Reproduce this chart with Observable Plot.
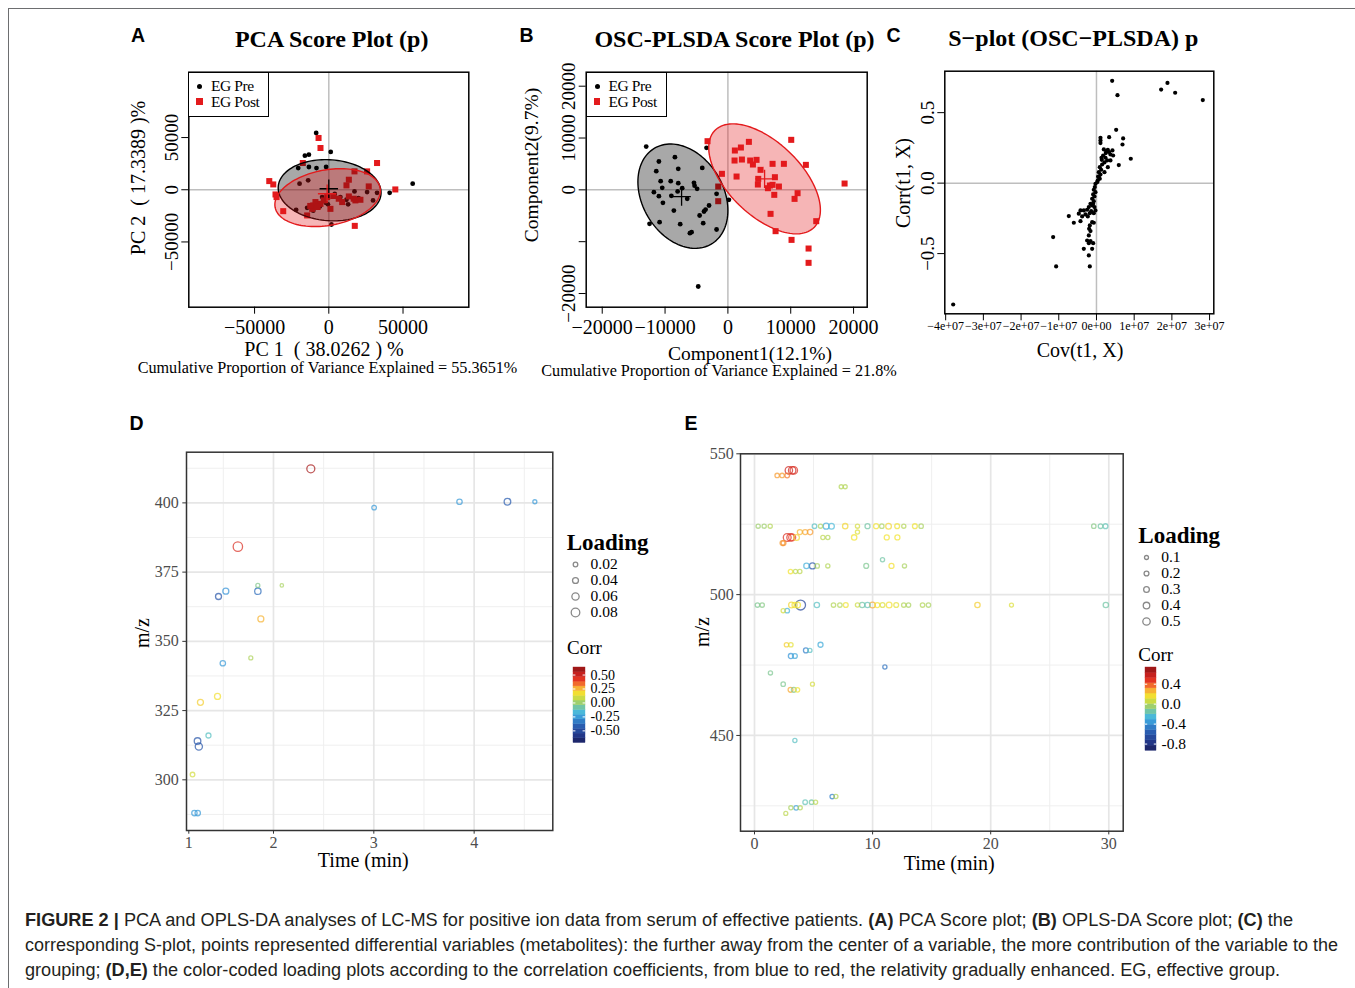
<!DOCTYPE html>
<html>
<head>
<meta charset="utf-8">
<script src="https://cdn.jsdelivr.net/npm/d3@7"></script>
<script src="https://cdn.jsdelivr.net/npm/@observablehq/plot@0.6"></script>
<style>
html,body{margin:0;padding:0;background:#fff;}
body{position:relative;width:1355px;height:988px;overflow:hidden;}
.t{position:absolute;white-space:nowrap;line-height:0.8;}
</style>
</head>
<body>
<script>
const SERIF = '"Liberation Serif","Times New Roman",Times,serif';
const SANS = '"Liberation Sans",Arial,Helvetica,sans-serif';
const NARROW = '"Liberation Sans Narrow","Arial Narrow","Liberation Sans",Arial,sans-serif';
const RED = "#e31a1c";

// ---------------- Panel A : PCA scores ----------------
const aPreX = [-8500, 1300, -16100, -13400, -20600, -13400, -8300, -1800, -19700, -13900, 56500, 41000, 32500, 25800, 17300, 29800, 11900, -4500, -22000, -14600, -9000, 7800, 1800, -600, -2000, 4000, 20000, -10500, 13000, -6000];
const aPreY = [54400, 36200, 32600, 33600, 20800, 21800, 20800, 21800, 5800, 9000, 5800, -2900, -2900, -2200, -1600, -10200, -9600, -7000, -19200, -17300, -11800, -7000, -33300, -14000, -12500, -4000, -8000, -20000, -14000, -16000];
const aPostX = [-6900, -5600, -17500, 32500, 17300, 25800, -40100, -37400, 13500, 11900, 26900, 44800, -35900, -35200, -30700, -10500, -9000, -5600, -3400, 1100, -1100, 6700, 9000, 13500, 16800, 21300, 17900, -14600, 17500, -11200, -12500, 3000, -7500];
const aPostY = [49600, 40000, 25600, 25600, 17600, 17600, 8300, 5100, 9600, 4200, 3200, 300, -4500, -7000, -20500, -15000, -11800, -13500, -10200, -18300, -7000, -8600, -11800, -6400, -8600, -9600, -10200, -24600, -34600, -18300, -15500, -6000, -16500];
const aEllPre = [560, -480, 34640, 29330, -0.078];   // centre x, centre y, half-width, half-height, correlation
const aEllPost = [-785, -7530, 35540, 27720, 0.243];
const aCenterPre = [0, 960];
const aCenterPost = [-1120, -3850];
const aXTicks = [-50000, 0, 50000];
const aYTicks = [-50000, 0, 50000];

// ---------------- Panel B : OSC-PLSDA scores ----------------
const bPreX = [-13000, -3400, -8430, -10980, -7900, -11400, -4080, -10700, -9100, -10450, -7900, -5400, -4900, -7270, -11780, -10980, -9000, -6470, -10340, -3000, -3550, -3800, -4500, -8600, -12470, -10870, -7590, -3930, -1800, -5780, -6050, -4720, -1800, 160, -5300, -8000];
const bPreY = [8360, 8100, 6300, 5470, 4050, 3600, 4240, 1670, 1670, 390, 1290, 1350, 190, 320, -450, -1220, -1160, -1740, -2500, -3020, -3800, -4180, -4950, -4000, -6560, -6240, -6620, -6430, -7650, -8170, -8360, -18650, -770, -1930, 800, -300];
const bPostX = [-3240, 10080, 3340, 2070, 1110, 1060, 2230, 3550, 3980, 4560, 7110, 8910, 12410, -950, 1380, 5200, 4830, 4770, 7480, 6680, 7110, 8120, 6370, 7380, 11090, 10610, -1540, -1540, 18570, 6790, 14060, 7590, 10130, 12840, 12840];
const bPostY = [9390, 9650, 9260, 8170, 7590, 5660, 5850, 5660, 4890, 5790, 5020, 5020, 4820, 3090, 2570, 3860, 2120, 1030, 2440, 840, 970, 640, 320, -960, -640, -1740, 640, -2190, 1220, -4630, -6040, -7970, -9650, -11320, -14080];
const bEllPre = [-7160, -1220, 7162, 10063, -0.274];
const bEllPost = [5836, 2122, 8886, 10610, -0.567];
const bCenterPre = [-7370, -1290];
const bCenterPost = [5840, 2120];
const bXTicks = [-20000, -10000, 0, 10000, 20000];
const bYTicks = [-20000, -10000, 0, 10000, 20000];

// ---------------- Panel C : S-plot ----------------
const cCov = [4.16e6, 5.57e6, 17.15e6, 18.83e6, 20.87e6, 28.2e6, 5.22e6, 3.36e6, 7.07e6, 6.9e6, 9.1e6, 5.92e6,
  1.06e6, 1.06e6, 1.06e6, 1.95e6, 3.01e6, 4.24e6, 3.36e6, 2.65e6, 1.77e6, 2.39e6, 1.33e6, 3.71e6, 4.42e6, 2.83e6, 2.12e6, 3.71e6, 1.5e6, 0.88e6, 3.01e6, 1.24e6, 0.62e6, 2.12e6, 1.06e6, 0.44e6, 0.88e6, 0.35e6, 0.18e6, 0.62e6, 1.41e6, 2.48e6,
  -0.44e6, -0.71e6, -0.27e6, -0.88e6, -0.53e6, -1.15e6, -0.71e6, -1.59e6, -1.15e6, -2.03e6, -0.53e6, -2.48e6, -1.41e6, -3.36e6, -4.24e6, -4.69e6, -2.92e6, -1.77e6, -0.71e6, -3.8e6, -2.3e6, -7.34e6, -6.01e6, -4.24e6, -1.15e6, -0.71e6, -1.77e6, -1.95e6, -1.59e6, -2.03e6, -2.48e6, -1.59e6, -0.88e6, -2.03e6, -3.36e6, -1.15e6, -2.03e6,
  -11.49e6, -10.7e6, -1.77e6, -38.0e6, -0.27e6, -0.88e6, -0.27e6];
const cCorr = [0.726, 0.624, 0.664, 0.711, 0.641, 0.589, 0.378, 0.326, 0.317, 0.274, 0.173, 0.128,
  0.322, 0.303, 0.284, 0.239, 0.236, 0.232, 0.220, 0.227, 0.196, 0.180, 0.180, 0.203, 0.196, 0.161, 0.147, 0.161, 0.132, 0.113, 0.113, 0.095, 0.078, 0.078, 0.061, 0.047, 0.031, 0.019, 0.007, 0.043, 0.165, 0.213,
  -0.028, -0.047, -0.064, -0.080, -0.095, -0.111, -0.128, -0.147, -0.158, -0.170, -0.170, -0.189, -0.199, -0.194, -0.194, -0.217, -0.222, -0.213, -0.213, -0.236, -0.236, -0.234, -0.281, -0.270, -0.277, -0.281, -0.300, -0.324, -0.340, -0.371, -0.407, -0.411, -0.426, -0.426, -0.466, -0.466, -0.513,
  -0.383, -0.591, -0.591, -0.861, -0.005, -0.147, -0.194];
const cXTicks = [-4e7, -3e7, -2e7, -1e7, 0, 1e7, 2e7, 3e7];
const cYTicks = [-0.5, 0, 0.5];

// ---------------- Panel D : loading plot ----------------
const dTime = [2.372, 1.645, 3.003, 3.854, 4.332, 4.605, 1.452, 1.525, 1.844, 1.844, 2.083, 1.874, 1.495, 1.774, 1.442, 1.272, 1.352, 1.243, 1.256, 1.193, 1.212, 1.245];
const dMz = [412.3, 384.2, 398.3, 400.4, 400.4, 400.4, 366.2, 368.1, 368.1, 370.2, 370.2, 358.1, 342.1, 344.0, 330.1, 328.0, 316.0, 314.0, 312.0, 301.9, 288.0, 288.0];
const dCorr = [0.58, 0.45, -0.25, -0.25, -0.42, -0.25, -0.45, -0.27, -0.38, -0.05, 0.02, 0.25, -0.25, 0.03, 0.17, 0.20, -0.12, -0.45, -0.45, 0.10, -0.25, -0.25];
const dLoading = [0.071, 0.092, 0.020, 0.032, 0.050, 0.011, 0.041, 0.041, 0.047, 0.011, 0.002, 0.041, 0.032, 0.011, 0.041, 0.041, 0.026, 0.050, 0.059, 0.020, 0.032, 0.032];
const dXTicks = [1.156, 2, 3, 4];
const dXLabels = ["1", "2", "3", "4"];
const dXMinor = [1.5, 2.5, 3.5, 4.5];
const dYTicks = [300, 325, 350, 375, 400];
const dYMinor = [287.5, 312.5, 337.5, 362.5, 387.5, 412.5];
const dLoadBreaks = [0.02, 0.04, 0.06, 0.08];
const dCorrBreaks = [-0.5, -0.25, 0, 0.25, 0.5];

// ---------------- Panel E : loading plot ----------------
const eTime = [2.91, 3.19, 3.33, 1.92, 2.34, 2.77, 7.34, 7.68,
  0.31, 0.82, 1.33, 5.08, 5.59, 6.07, 6.52, 7.68, 8.72, 9.57, 10.30, 10.78, 11.35, 12.08, 12.64, 13.58, 14.11, 28.73, 29.30, 29.72,
  3.84, 4.29, 4.71, 8.72,
  2.77, 3.05, 3.19, 3.56, 5.79, 6.21, 8.44, 11.20, 12.10,
  2.37, 2.46,
  10.84,
  4.40, 4.91, 5.31, 6.21, 9.46, 11.60, 12.70,
  3.05, 3.47, 3.84,
  0.25, 0.65, 3.13, 3.40, 3.65, 3.90, 5.28, 6.69, 7.23, 7.73, 8.72, 9.12, 9.57, 9.99, 10.40, 10.84, 11.40, 12.00, 12.64, 13.04, 14.23, 14.73, 18.88, 21.76, 29.75,
  2.43, 2.77,
  2.71, 3.08, 5.59,
  4.35, 4.69,
  3.08, 3.42,
  11.04, 1.35, 2.43, 4.91,
  3.05, 3.33, 3.64,
  3.42,
  6.58, 6.89,
  4.29, 4.83, 5.17,
  3.08, 3.53, 3.87,
  2.65];
const eMz = [544.1, 544.1, 544.1, 542.3, 542.3, 542.3, 538.3, 538.3,
  524.3, 524.3, 524.3, 524.3, 524.3, 524.3, 524.3, 524.3, 524.3, 524.3, 524.3, 524.3, 524.3, 524.3, 524.3, 524.3, 524.3, 524.3, 524.3, 524.3,
  522.2, 522.2, 522.2, 522.2,
  520.3, 520.3, 520.3, 520.3, 520.3, 520.3, 520.3, 520.3, 520.3,
  518.3, 518.3,
  512.4,
  510.2, 510.2, 510.2, 510.2, 510.2, 510.2, 510.2,
  508.2, 508.2, 508.2,
  496.3, 496.3, 496.3, 496.3, 496.3, 496.3, 496.3, 496.3, 496.3, 496.3, 496.3, 496.3, 496.3, 496.3, 496.3, 496.3, 496.3, 496.3, 496.3, 496.3, 496.3, 496.3, 496.3, 496.3, 496.3,
  494.3, 494.3,
  482.2, 482.2, 482.2,
  480.2, 480.2,
  478.2, 478.2,
  474.3, 472.2, 468.2, 468.2,
  466.2, 466.2, 466.2,
  448.2,
  428.3, 428.3,
  426.3, 426.3, 426.3,
  424.3, 424.3, 424.3,
  422.3];
const eCorr = [0.55, 0.55, 0.50, 0.30, 0.30, 0.35, 0.00, 0.00,
  -0.05, -0.05, 0.00, -0.20, -0.02, -0.30, -0.25, 0.18, 0.08, -0.15, 0.15, -0.02, 0.18, 0.14, 0.00, 0.14, -0.02, -0.10, -0.15, -0.18,
  0.25, 0.28, 0.30, 0.10,
  0.50, 0.50, 0.45, 0.18, 0.02, 0.00, 0.15, 0.15, 0.15,
  0.30, 0.32,
  -0.15,
  -0.28, -0.60, -0.02, 0.00, -0.12, 0.16, -0.02,
  0.15, 0.02, 0.02,
  -0.12, -0.10, 0.18, 0.15, 0.15, -0.70, -0.20, 0.00, 0.00, 0.14, 0.06, -0.15, -0.18, 0.28, 0.15, 0.10, 0.16, 0.12, 0.00, -0.02, 0.00, -0.02, 0.20, 0.10, -0.15,
  0.08, -0.28,
  0.20, 0.12, -0.30,
  -0.45, -0.20,
  -0.38, -0.32,
  -0.50, -0.12, -0.12, 0.08,
  0.28, -0.10, 0.15,
  -0.20,
  -0.45, 0.00,
  -0.18, -0.15, 0.02,
  -0.02, -0.35, 0.00,
  0.02];
const eLoading = [0.50, 0.50, 0.50, 0.15, 0.15, 0.17, 0.10, 0.10,
  0.12, 0.12, 0.12, 0.17, 0.12, 0.33, 0.30, 0.26, 0.12, 0.22, 0.22, 0.15, 0.30, 0.20, 0.12, 0.20, 0.15, 0.15, 0.17, 0.20,
  0.22, 0.22, 0.26, 0.12,
  0.55, 0.50, 0.45, 0.30, 0.12, 0.12, 0.26, 0.22, 0.22,
  0.20, 0.20,
  0.12,
  0.26, 0.35, 0.15, 0.12, 0.20, 0.22, 0.12,
  0.15, 0.12, 0.12,
  0.15, 0.15, 0.30, 0.25, 0.30, 0.80, 0.26, 0.15, 0.15, 0.20, 0.12, 0.26, 0.26, 0.30, 0.22, 0.20, 0.30, 0.20, 0.15, 0.15, 0.15, 0.15, 0.26, 0.10, 0.26,
  0.12, 0.17,
  0.15, 0.15, 0.22,
  0.20, 0.12,
  0.22, 0.20,
  0.12, 0.12, 0.15, 0.10,
  0.20, 0.20, 0.15,
  0.12,
  0.15, 0.12,
  0.17, 0.15, 0.12,
  0.12, 0.17, 0.12,
  0.10];
const eXTicks = [0, 10, 20, 30];
const eXMinor = [5, 15, 25];
const eYTicks = [450, 500, 550];
const eYMinor = [425, 475, 525];
const eLoadBreaks = [0.1, 0.2, 0.3, 0.4, 0.5];
const eCorrBreaks = [-0.8, -0.4, 0, 0.4];

// colour ramp of the correlation legend (position along bar -> colour)
const corrStops = [0, 0.1, 0.22, 0.33, 0.42, 0.51, 0.58, 0.65, 0.73, 0.82, 0.92, 1];
const corrColors = ["#1a1f5e", "#22388a", "#2a5db0", "#3794d8", "#4dbfd9", "#8fca7c", "#c2d94a", "#f2e331", "#f8a935", "#ec3b24", "#c01d1d", "#8b1414"];
const corrRamp = d3.scaleLinear().domain(corrStops).range(corrColors).interpolate(d3.interpolateRgb).clamp(true);
const corrInterp = t => corrRamp(t);

// ---------------- helpers ----------------
function put(svg, left, top) {
  svg.style.position = "absolute";
  svg.style.left = left + "px";
  svg.style.top = top + "px";
  svg.style.overflow = "visible";
  document.body.appendChild(svg);
  return svg;
}
function label(text, x, y, o = {}) {
  const {size = 20, weight = "normal", family = SERIF, anchor = "middle", rotate = 0, color = "#000", html = false} = o;
  const d = document.createElement("div");
  d.className = "t";
  if (html) d.innerHTML = text; else d.textContent = text;
  Object.assign(d.style, {left: x + "px", top: y + "px", fontSize: size + "px", fontWeight: weight, fontFamily: family, color});
  const tx = anchor === "middle" ? "-50%" : anchor === "end" ? "-100%" : "0";
  d.style.transform = `translate(${tx},-50%)` + (rotate ? ` rotate(${rotate}deg)` : "");
  document.body.appendChild(d);
  return d;
}
function ellipsePoints(p) {
  const [cx, cy, sx, sy, rho] = p;
  const k = Math.sqrt(1 - rho * rho);
  return d3.range(0, 361, 3).map(a => {
    const t = a * Math.PI / 180;
    return {x: cx + sx * Math.cos(t), y: cy + sy * (rho * Math.cos(t) + k * Math.sin(t))};
  });
}
const zip = (xs, ys) => xs.map((x, i) => ({x, y: ys[i]}));
const rMinus = d => d < 0 ? "\u2212" + Math.abs(d) : String(d);

function rPanel({left, top, width, height, box, xDom, yDom, xTicks, yTicks, xFmt, yFmt, xSize = 20, ySize = 19, xPad = 5.5, marks}) {
  const [bx0, bx1, by0, by1] = box;
  const svg = Plot.plot({
    width, height,
    marginLeft: bx0 - left, marginRight: left + width - bx1,
    marginTop: by0 - top, marginBottom: top + height - by1,
    x: {domain: xDom}, y: {domain: yDom},
    style: {fontFamily: SERIF, background: "transparent", overflow: "visible"},
    marks: [
      ...marks,
      Plot.frame({stroke: "#000", strokeWidth: 1.5}),
      Plot.axisX({ticks: xTicks, tickFormat: xFmt, tickSize: 7, tickPadding: xPad, fontSize: xSize, label: null, stroke: "#000", fill: "#000"}),
      Plot.axisY({ticks: yTicks, tickFormat: yFmt, tickSize: 7, tickPadding: 4, tickRotate: -90, textAnchor: "middle", lineAnchor: "bottom", fontSize: ySize, label: null, stroke: "#000", fill: "#000"})
    ]
  });
  put(svg, left, top);
}
function scoreMarks(pre, post, ellPre, ellPost, cPre, cPost) {
  return [
    Plot.ruleX([0], {stroke: "#bebebe", strokeWidth: 1.5}),
    Plot.ruleY([0], {stroke: "#bebebe", strokeWidth: 1.5}),
    Plot.dot(pre, {x: "x", y: "y", r: 2.4, fill: "#000"}),
    Plot.dot(post, {x: "x", y: "y", r: 3.4, symbol: "square", fill: RED}),
    Plot.line(ellipsePoints(ellPre), {x: "x", y: "y", fill: "#000", fillOpacity: 0.34, stroke: "#000", strokeWidth: 1.4}),
    Plot.line(ellipsePoints(ellPost), {x: "x", y: "y", fill: RED, fillOpacity: 0.32, stroke: RED, strokeWidth: 1.4}),
    Plot.dot([cPre], {x: d => d[0], y: d => d[1], symbol: "plus", r: 6, stroke: "#000", strokeWidth: 1.3}),
    Plot.dot([cPost], {x: d => d[0], y: d => d[1], symbol: "plus", r: 6, stroke: RED, strokeWidth: 1.3})
  ];
}
function rLegend(left, top) {
  const box = document.createElement("div");
  Object.assign(box.style, {position: "absolute", left: left + "px", top: top + "px", width: "81px", height: "45px", border: "1.5px solid #000", boxSizing: "border-box", background: "#fff"});
  document.body.appendChild(box);
  const dot = document.createElement("div");
  Object.assign(dot.style, {position: "absolute", left: (left + 9) + "px", top: (top + 12) + "px", width: "5px", height: "5px", borderRadius: "50%", background: "#000"});
  document.body.appendChild(dot);
  const sq = document.createElement("div");
  Object.assign(sq.style, {position: "absolute", left: (left + 8) + "px", top: (top + 26.5) + "px", width: "6.5px", height: "6.5px", background: RED});
  document.body.appendChild(sq);
  label("EG Pre", left + 22.7, top + 14.3, {size: 15.5, anchor: "start"}).style.letterSpacing = "-0.4px";
  label("EG Post", left + 22.7, top + 30.2, {size: 15.5, anchor: "start"}).style.letterSpacing = "-0.4px";
}

// ---------------- frame ----------------
const frame = document.createElement("div");
Object.assign(frame.style, {position: "absolute", left: "8px", top: "8px", width: "1400px", height: "1000px", borderTop: "1.5px solid #6d6e70", borderLeft: "1.5px solid #6d6e70"});
document.body.appendChild(frame);

// ---------------- Panel A ----------------
rPanel({
  left: 120, top: 50, width: 360, height: 300, box: [188.3, 468.3, 71.7, 306.7],
  xDom: [-94300, 94300], yDom: [-112500, 112600], xTicks: aXTicks, yTicks: aYTicks, xFmt: rMinus, yFmt: rMinus,
  marks: scoreMarks(zip(aPreX, aPreY), zip(aPostX, aPostY), aEllPre, aEllPost, aCenterPre, aCenterPost)
});
rLegend(188.3, 71.7);
label("A", 131, 36, {size: 19.5, weight: "bold", family: SANS, anchor: "start"});
label("PCA Score Plot (p)", 331.7, 39.5, {size: 24, weight: "bold"});
label("PC 1\u00a0\u00a0( 38.0262 ) %", 324, 348.5, {size: 20});
label("Cumulative Proportion of Variance Explained = 55.3651%", 327.5, 367.5, {size: 16.2});
label("PC 2\u00a0\u00a0( 17.3389 )%", 137.5, 178.3, {size: 20, rotate: -90});

// ---------------- Panel B ----------------
rPanel({
  left: 515, top: 50, width: 380, height: 300, box: [585.7, 866.7, 71.7, 306.7],
  xDom: [-22550, 22170], yDom: [-22640, 22700], xTicks: bXTicks, yTicks: bYTicks,
  xFmt: rMinus, yFmt: d => d === -10000 ? "" : rMinus(d),
  marks: scoreMarks(zip(bPreX, bPreY), zip(bPostX, bPostY), bEllPre, bEllPost, bCenterPre, bCenterPost)
});
rLegend(585.7, 71.7);
label("B", 519.5, 36, {size: 19.5, weight: "bold", family: SANS, anchor: "start"});
label("OSC-PLSDA Score Plot (p)", 734.5, 40, {size: 24, weight: "bold"});
label("Component1(12.1%)", 750, 353.5, {size: 19.5});
label("Cumulative Proportion of Variance Explained = 21.8%", 719, 371, {size: 16.2});
label("Component2(9.7%)", 531.7, 165, {size: 19.5, rotate: -90});

// ---------------- Panel C ----------------
rPanel({
  left: 880, top: 50, width: 350, height: 300, box: [944.3, 1213.3, 70.7, 313.3],
  xDom: [-4.023e7, 3.112e7], yDom: [-0.927, 0.794], xTicks: cXTicks, yTicks: cYTicks,
  xFmt: d => d === 0 ? "0e+00" : (d < 0 ? "\u2212" : "") + Math.round(Math.abs(d) / 1e7) + "e+07",
  yFmt: d => (d < 0 ? "\u2212" : "") + Math.abs(d).toFixed(1),
  xSize: 12, ySize: 19, xPad: 0.5,
  marks: [
    Plot.ruleX([0], {stroke: "#bebebe", strokeWidth: 1.5}),
    Plot.ruleY([0], {stroke: "#bebebe", strokeWidth: 1.5}),
    Plot.dot(zip(cCov, cCorr), {x: "x", y: "y", r: 2.1, fill: "#000"})
  ]
});
label("C", 886.5, 36, {size: 19.5, weight: "bold", family: SANS, anchor: "start"});
label("S\u2212plot (OSC\u2212PLSDA) p", 1073.3, 38.5, {size: 24, weight: "bold"});
label("Cov(t1, X)", 1080, 349.5, {size: 20});
label("Corr(t1, X)", 902.5, 183.3, {size: 20, rotate: -90});

// ---------------- loading plots ----------------
function loadingPanel({left, top, width, height, box, xDom, yDom, xTicks, xFmt, xMinor, yTicks, yMinor, cDom, rDom, rRange, data, yPad}) {
  const [bx0, bx1, by0, by1] = box;
  const svg = Plot.plot({
    width, height,
    marginLeft: bx0 - left, marginRight: left + width - bx1,
    marginTop: by0 - top, marginBottom: top + height - by1,
    x: {domain: xDom}, y: {domain: yDom},
    color: {type: "linear", domain: cDom, interpolate: corrInterp},
    r: {type: "linear", domain: rDom, range: rRange},
    style: {fontFamily: SERIF, background: "transparent", overflow: "visible"},
    marks: [
      Plot.gridX({ticks: xMinor, stroke: "#efefef", strokeOpacity: 1, strokeWidth: 1}),
      Plot.gridY({ticks: yMinor, stroke: "#efefef", strokeOpacity: 1, strokeWidth: 1}),
      Plot.gridX({ticks: xTicks.filter(d => Number.isInteger(d)), stroke: "#e6e6e6", strokeOpacity: 1, strokeWidth: 1.7}),
      Plot.gridY({ticks: yTicks, stroke: "#e6e6e6", strokeOpacity: 1, strokeWidth: 1.7}),
      Plot.dot(data, {x: "t", y: "mz", r: "load", stroke: "corr", strokeWidth: 1.3, strokeOpacity: 0.72, fill: "none"}),
      Plot.frame({stroke: "#333", strokeWidth: 1.5}),
      Plot.axisX({ticks: xTicks, tickFormat: xFmt, tickSize: 3.7, tickPadding: 2.8, fontSize: 16, label: null, stroke: "#333", fill: "#4d4d4d"}),
      Plot.axisY({ticks: yTicks, tickSize: 3.7, tickPadding: yPad, fontSize: 16, label: null, stroke: "#333", fill: "#4d4d4d"})
    ]
  });
  put(svg, left, top);
}
function sizeLegend({left, top, width, height, mLeft, mTop, mBottom, breaks, rDom, rRange, fmt, dx}) {
  const svg = Plot.plot({
    width, height, marginLeft: mLeft, marginRight: 5, marginTop: mTop, marginBottom: mBottom,
    x: {domain: [0, 1], axis: null},
    y: {type: "point", domain: breaks, padding: 0, axis: null},
    r: {type: "linear", domain: rDom, range: rRange},
    style: {fontFamily: SERIF, background: "transparent", overflow: "visible"},
    marks: [
      Plot.dot(breaks, {x: 0, y: d => d, r: d => d, stroke: "#8a8a8a", strokeWidth: 1.3, fill: "none"}),
      Plot.text(breaks, {x: 0, y: d => d, text: fmt, dx, textAnchor: "start", fontSize: 15.5, fill: "#000"})
    ]
  });
  put(svg, left, top);
}
function colorBar({left, top, w, h, lo, hi, ticks, fmt, size}) {
  const n = 16, step = (hi - lo) / n;
  const bins = d3.range(n).map(i => ({y1: lo + i * step, y2: lo + (i + 1) * step, v: lo + (i + 0.5) * step}));
  const svg = Plot.plot({
    width: w + 50, height: h + 16, marginLeft: 0, marginRight: 50, marginTop: 8, marginBottom: 8,
    x: {domain: [0, 1], axis: null},
    y: {domain: [lo, hi]},
    color: {type: "linear", domain: [lo, hi], interpolate: corrInterp},
    style: {fontFamily: SERIF, background: "transparent", overflow: "visible"},
    marks: [
      Plot.rect(bins, {x1: 0, x2: 1, y1: "y1", y2: "y2", fill: "v", stroke: "v", strokeWidth: 0.4}),
      Plot.ruleY(ticks, {x1: 0, x2: 0.2, stroke: "#fff", strokeWidth: 1}),
      Plot.ruleY(ticks, {x1: 0.8, x2: 1, stroke: "#fff", strokeWidth: 1}),
      Plot.axisY({anchor: "right", ticks, tickFormat: fmt, tickSize: 0, tickPadding: 5, fontSize: size, label: null, fill: "#000"})
    ]
  });
  put(svg, left, top - 8);
}

// ---------------- Panel D ----------------
const dData = dTime.map((t, i) => ({t, mz: dMz[i], corr: dCorr[i], load: dLoading[i]}));
loadingPanel({
  left: 120, top: 440, width: 440, height: 430, box: [186, 552.3, 451.7, 830],
  xDom: [1.133, 4.784], yDom: [281.7, 418.3],
  xTicks: dXTicks, xFmt: d => dXLabels[dXTicks.indexOf(d)], xMinor: dXMinor,
  yTicks: dYTicks, yMinor: dYMinor, cDom: [-0.717, 0.635], rDom: [0.02, 0.08], rRange: [2.3, 4.3], data: dData, yPad: 4
});
label("D", 129.5, 424.2, {size: 19.5, weight: "bold", family: SANS, anchor: "start"});
label("Time (min)", 363.3, 860, {size: 20});
label("m/z", 141.7, 633, {size: 20, rotate: -90});
label("Loading", 566.7, 542.5, {size: 23, weight: "bold", anchor: "start"});
sizeLegend({left: 560, top: 553, width: 90, height: 70, mLeft: 15, mTop: 10.3, mBottom: 11.3, breaks: dLoadBreaks, rDom: [0.02, 0.08], rRange: [2.3, 4.3], fmt: d => d.toFixed(2), dx: 15});
label("Corr", 567, 647.5, {size: 19, anchor: "start"});
colorBar({left: 573, top: 666.7, w: 12, h: 75.5, lo: -0.717, hi: 0.635, ticks: dCorrBreaks, fmt: d => d.toFixed(2), size: 14});

// ---------------- Panel E ----------------
const eData = eTime.map((t, i) => ({t, mz: eMz[i], corr: eCorr[i], load: eLoading[i]}));
loadingPanel({
  left: 680, top: 440, width: 450, height: 430, box: [740, 1122.7, 453.3, 830.7],
  xDom: [-1.185, 31.22], yDom: [416.0, 550.0],
  xTicks: eXTicks, xFmt: d => String(d), xMinor: eXMinor,
  yTicks: eYTicks, yMinor: eYMinor, cDom: [-0.935, 0.735], rDom: [0.1, 0.5], rRange: [2, 3.7], data: eData, yPad: 3
});
label("E", 684.5, 424.2, {size: 19.5, weight: "bold", family: SANS, anchor: "start"});
label("Time (min)", 949.3, 862.5, {size: 20});
label("m/z", 701.7, 631.7, {size: 20, rotate: -90});
label("Loading", 1138.3, 535.5, {size: 23, weight: "bold", anchor: "start"});
sizeLegend({left: 1131, top: 545, width: 90, height: 88, mLeft: 15, mTop: 10.7, mBottom: 11.3, breaks: eLoadBreaks, rDom: [0.1, 0.5], rRange: [2, 3.7], fmt: d => d.toFixed(1), dx: 14.7});
label("Corr", 1138.3, 655, {size: 19, anchor: "start"});
colorBar({left: 1145, top: 666.7, w: 11, h: 83.3, lo: -0.935, hi: 0.735, ticks: eCorrBreaks, fmt: d => d.toFixed(1), size: 15.5});

// ---------------- caption ----------------
const captionLines = [
  ['<b>FIGURE 2 |</b> PCA and OPLS-DA analyses of LC-MS for positive ion data from serum of effective patients. <b>(A)</b> PCA Score plot; <b>(B)</b> OPLS-DA Score plot; <b>(C)</b> the', 920, 1268],
  ['corresponding S-plot, points represented differential variables (metabolites): the further away from the center of a variable, the more contribution of the variable to the', 945, 1313],
  ['grouping; <b>(D,E)</b> the color-coded loading plots according to the correlation coefficients, from blue to red, the relativity gradually enhanced. EG, effective group.', 970, 1255]
];
for (const [html, y, w] of captionLines) {
  const el = label(html, 25, y, {size: 18, family: NARROW, anchor: "start", color: "#231f20", html: true});
  const actual = el.getBoundingClientRect().width;
  el.style.transformOrigin = "0 50%";
  el.style.transform = `translate(0,-50%) scaleX(${w / actual})`;
}
</script>
</body>
</html>
